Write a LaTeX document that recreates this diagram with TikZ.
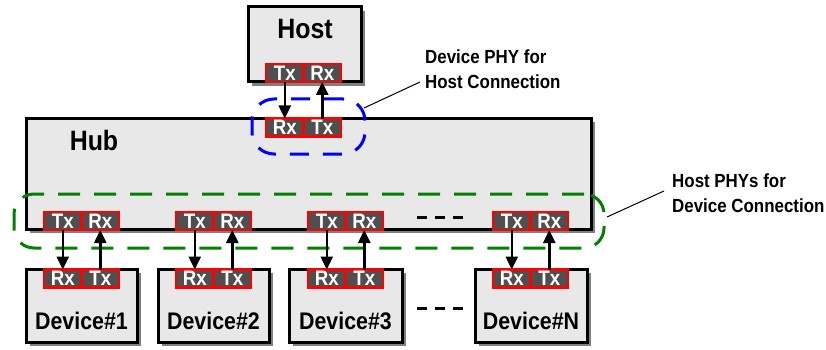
\documentclass[tikz,border=0pt]{standalone}
\usepackage{fontspec}
\newfontfamily\narf[FakeStretch=0.89]{Liberation Sans}
\usetikzlibrary{shadows,arrows.meta}
\definecolor{boxfill}{HTML}{E8E8E8}
\definecolor{shadowgray}{HTML}{808080}
\definecolor{cellfill}{HTML}{4F4F4F}
\definecolor{dgreen}{HTML}{008000}
\begin{document}
\begin{tikzpicture}[x=1pt,y=-1pt,
  box/.style={draw=black, line width=3pt, fill=boxfill, inner sep=0pt, outer sep=0pt,
    drop shadow={shadow xshift=4pt, shadow yshift=-4pt, fill=shadowgray, opacity=1}},
  cell/.style={draw=red, line width=2.5pt, fill=cellfill, text=white, inner sep=0pt, outer sep=0pt,
    minimum width=37.5pt, minimum height=18pt, font=\narf\bfseries\fontsize{21}{21}\selectfont},
  arr/.style={line width=2.5pt, -{Triangle[width=12pt,length=13pt]}},
  bigtxt/.style={inner sep=0pt, font=\narf\bfseries\fontsize{28}{30}\selectfont},
  devtxt/.style={inner sep=0pt, font=\narf\bfseries\fontsize{24}{26}\selectfont},
  lbl/.style={inner sep=0pt, align=left, font=\narf\bfseries\fontsize{19}{25}\selectfont},
  leader/.style={line width=1pt},
  dotsline/.style={line width=3pt, dash pattern=on 10pt off 8pt},
  bluegrp/.style={draw=blue, line width=3pt, dash pattern=on 19pt off 14pt, rounded corners=22pt,
    inner sep=0pt, outer sep=0pt},
  greengrp/.style={draw=dgreen, line width=3pt, dash pattern=on 22pt off 14pt, rounded corners=20pt,
    inner sep=0pt, outer sep=0pt}
]
\useasboundingbox (0,0) rectangle (826,350);

% boxes
\node[box, anchor=north west, minimum width=565pt, minimum height=111pt] (hub) at (26,118) {};
\node[box, anchor=north west, minimum width=113pt, minimum height=75pt] (host) at (248,7) {};
\node[box, anchor=north west, minimum width=111pt, minimum height=73pt] (dev1) at (26,269) {};
\node[box, anchor=north west, minimum width=111pt, minimum height=73pt] (dev2) at (158,269) {};
\node[box, anchor=north west, minimum width=113pt, minimum height=73pt] (dev3) at (289,269) {};
\node[box, anchor=north west, minimum width=112pt, minimum height=73pt] (devN) at (475,269) {};

% labels in boxes
\node[bigtxt, anchor=base] (hostlbl) at (305,39) {Host};
\node[bigtxt, anchor=base] (hublbl) at (94,150) {Hub};
\node[devtxt, anchor=base] (dev1lbl) at (dev1.center |- 0,329) {Device\#1};
\node[devtxt, anchor=base] (dev2lbl) at (dev2.center |- 0,329) {Device\#2};
\node[devtxt, anchor=base] (dev3lbl) at (dev3.center |- 0,329) {Device\#3};
\node[devtxt, anchor=base] (devNlbl) at (devN.center |- 0,329) {Device\#N};

% group outlines
\node[greengrp, anchor=north west, minimum width=590pt, minimum height=54pt] (hostphys) at (14,194) {};
\node[bluegrp, anchor=north west, minimum width=113pt, minimum height=55pt] (devphy) at (252,99) {};

% host PHY
\node[cell, anchor=south west] (hTx) at (266,82) {Tx};
\node[cell, anchor=west] (hRx) at (hTx.east) {Rx};
% hub PHY for host
\node[cell, anchor=north west] (uRx) at (266,118.5) {Rx};
\node[cell, anchor=west] (uTx) at (uRx.east) {Tx};

\draw[arr] (hTx.south) -- (uRx.north);
\draw[arr] (uTx.north) -- (hRx.south);

% hub PHYs and device PHYs
\foreach \n/\x in {a/44,b/176,c/308,d/493}{
  \node[cell, anchor=south west] (pT\n) at (\x,230) {Tx};
  \node[cell, anchor=west] (pR\n) at (pT\n.east) {Rx};
  \node[cell, anchor=north west] (dR\n) at (\x,269.5) {Rx};
  \node[cell, anchor=west] (dT\n) at (dR\n.east) {Tx};
  \draw[arr] (pT\n.south) -- (dR\n.north);
  \draw[arr] (dT\n.north) -- (pR\n.south);
}

% ellipsis dashes
\coordinate (e1a) at (417,217); \coordinate (e1b) at (465,217);
\coordinate (e2a) at (417,308); \coordinate (e2b) at (465,308);
\draw[dotsline] (e1a) -- (e1b);
\draw[dotsline] (e2a) -- (e2b);

% callouts
\node[lbl, anchor=north west] (devphylbl) at (425,50) {Device PHY for\\Host Connection};
\node[lbl, anchor=north west] (hostphylbl) at (672,174) {Host PHYs for\\Device Connection};
\coordinate (bl1) at (364,108); \coordinate (bl2) at (420,82);
\coordinate (gl1) at (607,217); \coordinate (gl2) at (664,191);
\draw[leader] (bl1) -- (bl2);
\draw[leader] (gl1) -- (gl2);
\end{tikzpicture}
\end{document}
